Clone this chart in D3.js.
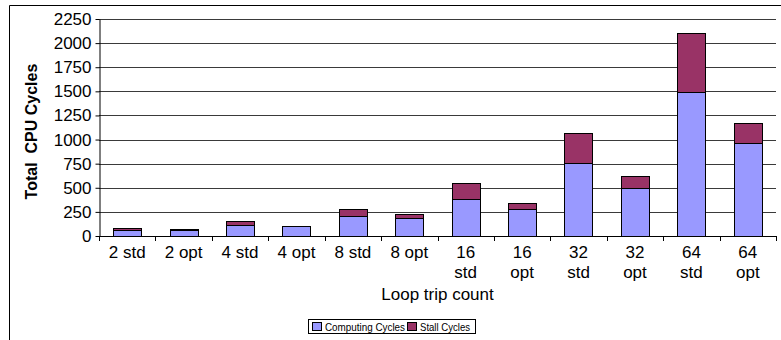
<!DOCTYPE html>
<html>
<head>
<meta charset="utf-8">
<script src="https://cdn.jsdelivr.net/npm/d3@7"></script>
<style>
  body { margin: 0; background: #fff; }
  svg { display: block; font-family: "Liberation Sans", Arial, sans-serif; }
</style>
</head>
<body>
<div id="chart"></div>
<script>
// --- Data ---
const categories = ['2 std', '2 opt', '4 std', '4 opt', '8 std', '8 opt',
  '16 std', '16 opt', '32 std', '32 opt', '64 std', '64 opt'];
const computingCycles = [65, 58, 115, 105, 205, 185, 385, 285, 755, 500, 1495, 965];
const stallCycles = [18, 10, 37, 3, 75, 43, 165, 57, 310, 120, 607, 207];
const yTicks = [0, 250, 500, 750, 1000, 1250, 1500, 1750, 2000, 2250];
const seriesNames = ['Computing Cycles', 'Stall Cycles'];
const seriesColors = ['#9999ff', '#993366'];

const W = 781, H = 340;
const plot = { left: 99, right: 776, top: 19, bottom: 236 };

const svg = d3.select('#chart').append('svg')
  .attr('width', W)
  .attr('height', H);

// outer frame (only left and top edges fall inside the picture)
svg.append('path')
  .attr('d', `M9.5,${H} V5.5 H${W}`)
  .attr('fill', 'none')
  .attr('stroke', '#000');

const x = d3.scaleBand()
  .domain(categories)
  .range([plot.left, plot.right])
  .paddingInner(0.5)
  .paddingOuter(0.25);

const y = d3.scaleLinear()
  .domain([0, 2250])
  .range([plot.bottom, plot.top]);

// gridlines
svg.append('g')
  .selectAll('line')
  .data(yTicks.filter(d => d > 0))
  .join('line')
  .attr('x1', plot.left)
  .attr('x2', plot.right)
  .attr('y1', d => Math.round(y(d)) + 0.5)
  .attr('y2', d => Math.round(y(d)) + 0.5)
  .attr('stroke', '#3a3a3a');

// stacked bars
const rows = categories.map((c, i) => ({ cat: c, comp: computingCycles[i], stall: stallCycles[i] }));
const stack = d3.stack().keys(['comp', 'stall'])(rows);

svg.append('g')
  .selectAll('g')
  .data(stack)
  .join('g')
  .attr('fill', (d, i) => seriesColors[i])
  .selectAll('rect')
  .data(d => d)
  .join('rect')
  .attr('x', d => Math.round(x(d.data.cat)) + 0.5)
  .attr('width', Math.round(x.bandwidth()))
  .attr('y', d => Math.round(y(d[1])) + 0.5)
  .attr('height', d => Math.round(y(d[0])) - Math.round(y(d[1])))
  .attr('stroke', '#000')
  .attr('stroke-width', 1);

// y axis
const yAxis = svg.append('g')
  .attr('transform', `translate(${plot.left + 0.5},0)`)
  .call(d3.axisLeft(y).tickValues(yTicks).tickFormat(d3.format('d'))
    .tickSize(4).tickSizeOuter(0).tickPadding(4));
yAxis.select('.domain').attr('stroke', '#000');
yAxis.selectAll('.tick line').attr('stroke', '#000');
yAxis.selectAll('.tick text')
  .attr('font-size', 17)
  .attr('font-family', '"Liberation Sans", Arial, sans-serif')
  .attr('fill', '#000');

// x axis: ticks sit on category boundaries
const xAxisG = svg.append('g');
xAxisG.append('line')
  .attr('x1', plot.left)
  .attr('x2', plot.right)
  .attr('y1', plot.bottom + 0.5)
  .attr('y2', plot.bottom + 0.5)
  .attr('stroke', '#000');

const step = x.step();
const boundaries = d3.range(categories.length + 1).map(i => plot.left + i * step);
xAxisG.selectAll('line.tick')
  .data(boundaries)
  .join('line')
  .attr('class', 'tick')
  .attr('x1', d => Math.round(d) + 0.5)
  .attr('x2', d => Math.round(d) + 0.5)
  .attr('y1', plot.bottom)
  .attr('y2', plot.bottom + 5)
  .attr('stroke', '#000');

// labels wrap to two lines for the 2-digit counts
const labels = xAxisG.selectAll('text')
  .data(categories)
  .join('text')
  .attr('text-anchor', 'middle')
  .attr('font-size', 17)
  .attr('fill', '#000')
  .attr('transform', d => `translate(${x(d) + x.bandwidth() / 2},0)`);

labels.each(function(d) {
  const t = d3.select(this);
  const parts = d.split(' ');
  const lines = parts[0].length > 1 ? parts : [d];
  lines.forEach((s, i) => {
    t.append('tspan').attr('x', 0).attr('y', 258 + i * 20).text(s);
  });
});

// axis titles
svg.append('text')
  .attr('x', (plot.left + plot.right) / 2)
  .attr('y', 300)
  .attr('text-anchor', 'middle')
  .attr('font-size', 17)
  .text('Loop trip count');

svg.append('text')
  .attr('transform', `translate(37,${(plot.top + plot.bottom) / 2 + 4}) rotate(-90)`)
  .attr('text-anchor', 'middle')
  .attr('font-size', 16)
  .attr('font-weight', 'bold')
  .style('white-space', 'pre')
  .text('Total  CPU Cycles');

// legend
const legend = svg.append('g');
legend.append('rect')
  .attr('x', 308.5)
  .attr('y', 319.5)
  .attr('width', 167)
  .attr('height', 14)
  .attr('fill', '#fff')
  .attr('stroke', '#000');

const legendItems = [
  { sx: 312.5, tx: 325, tw: 80 },
  { sx: 407.5, tx: 420, tw: 50 }
];
legendItems.forEach((it, i) => {
  legend.append('rect')
    .attr('x', it.sx)
    .attr('y', 322.5)
    .attr('width', 9)
    .attr('height', 8)
    .attr('fill', seriesColors[i])
    .attr('stroke', '#000');
  legend.append('text')
    .attr('x', it.tx)
    .attr('y', 330.5)
    .attr('font-size', 11)
    .attr('textLength', it.tw)
    .attr('lengthAdjust', 'spacingAndGlyphs')
    .text(seriesNames[i]);
});
</script>
</body>
</html>
